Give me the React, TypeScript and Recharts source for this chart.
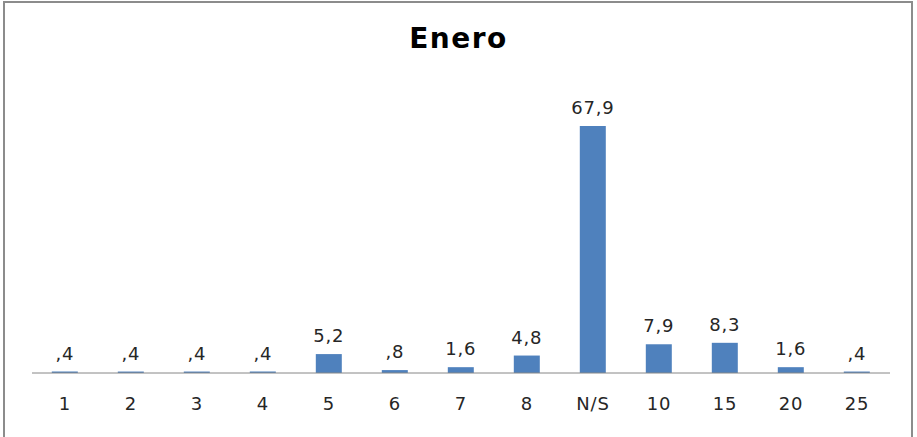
import { BarChart, Bar, XAxis, YAxis, LabelList } from 'recharts';

const categories = ['1', '2', '3', '4', '5', '6', '7', '8', 'N/S', '10', '15', '20', '25'];
const values = [0.4, 0.4, 0.4, 0.4, 5.2, 0.8, 1.6, 4.8, 67.9, 7.9, 8.3, 1.6, 0.4];

const data = categories.map((name, i) => ({ name, value: values[i] }));

// Excel style: ",4" for values below one, decimal comma
const fmt = (v: any) => {
  const s = Number(v).toFixed(1).replace('.', ',');
  return s.startsWith('0,') ? s.slice(1) : s;
};

const font = '"DejaVu Sans", Verdana, sans-serif';
const textStyle = { fill: '#262626', fontSize: 18, fontFamily: font, letterSpacing: 0.8 };

const App = () => {
  return (
    <div style={{ position: 'fixed', left: 0, top: 0, width: 917, height: 437, background: '#fff', overflow: 'hidden' }}>
      <div
        style={{
          position: 'absolute',
          left: 3,
          top: 1,
          width: 906,
          height: 440,
          borderLeft: '2px solid #8c8c8c',
          borderTop: '2px solid #8c8c8c',
          borderRight: '2px solid #8c8c8c',
        }}
      />
      <div
        style={{
          position: 'absolute',
          left: 0,
          width: 917,
          top: 22,
          textAlign: 'center',
          fontFamily: font,
          fontWeight: 'bold',
          fontSize: 28,
          letterSpacing: 1.5,
          color: '#000',
        }}
      >
        Enero
      </div>
      <BarChart
        width={917}
        height={437}
        data={data}
        margin={{ top: 82, right: 27, left: 32, bottom: 0 }}
        barCategoryGap="30%"
        style={{ position: 'absolute', left: 0, top: 0 }}
      >
        <XAxis
          dataKey="name"
          stroke="#868686"
          tickLine={false}
          tickSize={0}
          tickMargin={24}
          height={64}
          interval={0}
          tick={textStyle}
        />
        <YAxis hide domain={[0, 80]} />
        <Bar dataKey="value" fill="#4f81bd" isAnimationActive={false}>
          <LabelList
            dataKey="value"
            position="top"
            offset={12}
            formatter={fmt}
            style={textStyle}
          />
        </Bar>
      </BarChart>
    </div>
  );
};

export default App;
